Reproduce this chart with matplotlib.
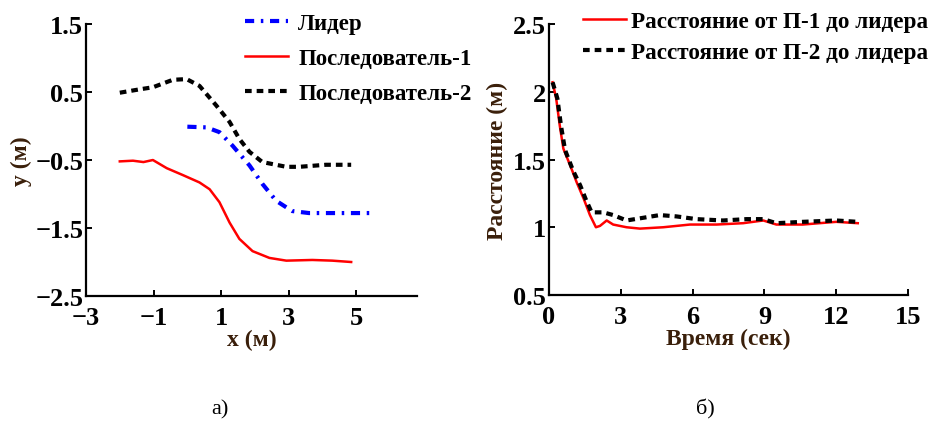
import matplotlib
matplotlib.use("Agg")
import matplotlib.pyplot as plt

# panel a: trajectories (x, y in metres)
leader_x = [0.0, 0.57, 0.95, 1.34, 1.84, 2.22, 2.63, 3.1, 3.6, 4.5, 5.58]
leader_y = [-0.01, -0.02, -0.09, -0.29, -0.58, -0.85, -1.10, -1.25, -1.28, -1.28, -1.28]

f1_x = [-2.0, -1.61, -1.3, -1.02, -0.61, -0.14, 0.36, 0.66, 0.95, 1.25, 1.54,
        1.93, 2.43, 2.93, 3.7, 4.29, 4.85]
f1_y = [-0.52, -0.51, -0.53, -0.50, -0.62, -0.72, -0.83, -0.93, -1.12, -1.42, -1.66,
        -1.84, -1.94, -1.98, -1.97, -1.98, -2.0]

f2_x = [-2.0, -1.41, -1.02, -0.43, -0.02, 0.36, 0.86, 1.25, 1.54, 1.84, 2.22,
        2.93, 3.31, 4.1, 4.85]
f2_y = [0.49, 0.54, 0.57, 0.68, 0.69, 0.59, 0.30, 0.06, -0.19, -0.38, -0.53,
        -0.60, -0.60, -0.57, -0.57]

# panel b: distance to leader over time
t1 = [0.15, 0.3, 0.45, 0.6, 0.9, 1.16, 1.45, 1.71, 1.96, 2.13, 2.41, 2.68, 3.24, 3.8,
      4.77, 5.89, 7.0, 8.11, 8.95, 9.5, 10.6, 12.0, 12.9]
d1 = [2.07, 1.95, 1.75, 1.58, 1.45, 1.33, 1.21, 1.09, 1.00, 1.01, 1.05, 1.02, 1.00, 0.99,
      1.00, 1.02, 1.02, 1.03, 1.05, 1.02, 1.02, 1.04, 1.03]

t2 = [0.15, 0.35, 0.5, 0.67, 1.0, 1.3, 1.55, 1.78, 2.27, 2.68, 3.24, 3.94, 4.63, 5.33,
      6.16, 7.27, 8.25, 8.95, 9.5, 10.6, 12.0, 12.9]
d2 = [2.07, 1.95, 1.75, 1.57, 1.42, 1.31, 1.20, 1.11, 1.11, 1.09, 1.05, 1.07, 1.09, 1.08,
      1.06, 1.05, 1.06, 1.06, 1.03, 1.04, 1.05, 1.04]

plt.rcParams["font.family"] = ["Liberation Serif", "DejaVu Serif"]
plt.rcParams["font.weight"] = "bold"

label_color = "#3a1f0a"
fig = plt.figure(figsize=(9.34, 4.31), dpi=100)


def style_axes(ax):
    for side in ("top", "right"):
        ax.spines[side].set_visible(False)
    for side in ("left", "bottom"):
        ax.spines[side].set_linewidth(1.6)
    ax.tick_params(direction="in", length=4, width=1.4, labelsize=19)
    ax.tick_params(axis="x", pad=7)
    ax.tick_params(axis="y", pad=2)
    for lab in ax.get_xticklabels() + ax.get_yticklabels():
        lab.set_fontweight("bold")


ax1 = fig.add_axes([0.0921, 0.3109, 0.3544, 0.631])
l0, = ax1.plot(leader_x, leader_y, color="#0000ff", lw=3.0,
               linestyle=(0, (2.2, 1.6, 0.6, 1.6)), label="Лидер")
l1, = ax1.plot(f1_x, f1_y, color="#ff0000", lw=1.8, label="Последователь-1")
l2, = ax1.plot(f2_x, f2_y, color="black", lw=3.0, linestyle=(0, (1.6, 1.2)),
               label="Последователь-2")
ax1.set_xlim(-3, 6.8)
ax1.set_ylim(-2.5, 1.5)
ax1.set_xticks([-3, -1, 1, 3, 5])
ax1.set_yticks([-2.5, -1.5, -0.5, 0.5, 1.5])
style_axes(ax1)
ax1.set_xlabel("x (м)", fontsize=17, fontweight="bold", color=label_color, labelpad=0)
ax1.set_ylabel("y (м)", fontsize=17, fontweight="bold", color=label_color, labelpad=2)
ax1.legend(handles=[l0, l1, l2], loc="upper left", bbox_to_anchor=(0.240, 1.015),
           bbox_transform=fig.transFigure, frameon=False,
           handlelength=1.9, handletextpad=0.43, labelspacing=0.6,
           prop={"weight": "bold", "size": 16.5})

ax2 = fig.add_axes([0.5878, 0.3132, 0.3844, 0.6288])
r1, = ax2.plot(t1, d1, color="#ff0000", lw=1.8, label="Расстояние от П-1 до лидера")
r2, = ax2.plot(t2, d2, color="black", lw=3.0, linestyle=(0, (1.6, 1.2)),
               label="Расстояние от П-2 до лидера")
ax2.set_xlim(0, 15)
ax2.set_ylim(0.5, 2.5)
ax2.set_xticks([0, 3, 6, 9, 12, 15])
ax2.set_yticks([0.5, 1, 1.5, 2, 2.5])
ax2.set_yticklabels(["0.5", "1", "1.5", "2", "2.5"])
style_axes(ax2)
ax2.set_xlabel("Время (сек)", fontsize=17, fontweight="bold", color=label_color, labelpad=0)
ax2.set_ylabel("Расстояние (м)", fontsize=17, fontweight="bold", color=label_color, labelpad=4)
ax2.legend(handles=[r1, r2], loc="upper left", bbox_to_anchor=(0.602, 1.022),
           bbox_transform=fig.transFigure, frameon=False,
           handlelength=1.85, handletextpad=0.22, labelspacing=0.45,
           prop={"weight": "bold", "size": 16.7})

fig.text(0.2355, 0.05, "а)", fontsize=16, fontweight="normal", ha="center", va="center")
fig.text(0.755, 0.05, "б)", fontsize=16, fontweight="normal", ha="center", va="center")

fig.savefig("out.png", dpi=100)
